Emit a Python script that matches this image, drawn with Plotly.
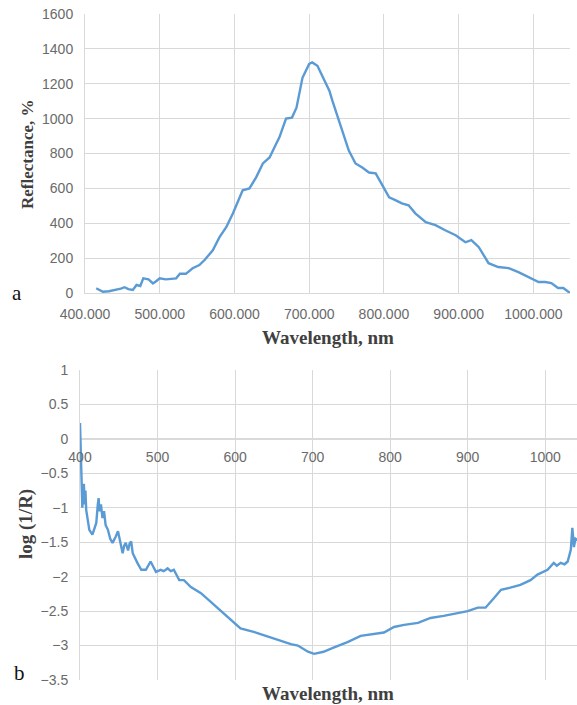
import plotly.graph_objects as go

# ---- data: panel a (reflectance) ----
wl_a = [415, 420, 424, 432, 442, 448, 453, 458, 464, 469, 474, 478, 485, 491, 496, 500, 508, 515,
        522, 527, 535, 544, 553, 560, 567, 571, 580, 589, 598, 607, 611, 620, 629, 638, 647, 656,
        660, 669, 677, 683, 691, 700, 704, 711, 720, 727, 731, 740, 747, 753, 762, 771, 780, 789,
        798, 807, 816, 824, 833, 842, 856, 869, 882, 896, 909, 917, 927, 940, 953, 967, 980, 993,
        1007, 1016, 1024, 1033, 1040, 1049]
refl_a = [27, 15, 7, 10, 17, 25, 33, 22, 17, 46, 40, 84, 78, 55, 70, 84, 78, 80,
          84, 110, 110, 142, 160, 189, 227, 245, 320, 377, 457, 549, 589, 600, 663, 743, 777, 857,
          891, 1000, 1006, 1063, 1234, 1314, 1322, 1303, 1217, 1160, 1103, 989, 891, 817, 743, 720, 691, 686,
          617, 549, 531, 514, 503, 457, 406, 389, 360, 331, 291, 303, 263, 171, 149, 143, 120, 91,
          63, 63, 57, 29, 29, 0]

# ---- data: panel b (log 1/R) ----
wl_b = [400, 401, 402, 403, 404, 405, 406, 407, 408, 410, 412, 416, 419, 421, 423, 424, 425, 427,
        429, 431, 433, 436, 439, 442, 446, 449, 452, 455, 457, 459, 462, 464, 466, 468, 474, 479,
        485, 491, 498, 504, 508, 513, 517, 521, 528, 534, 543, 556, 573, 590, 607, 624, 642, 659,
        672, 681, 694, 702, 714, 727, 745, 762, 779, 792, 805, 818, 836, 852, 869, 887, 900, 913,
        923, 934, 943, 955, 968, 981, 990, 1003, 1011, 1015, 1020, 1025, 1029, 1033, 1035, 1037,
        1039, 1042]
logr_b = [0.23, -0.3, -0.7, -1.0, -0.7, -0.65, -0.95, -0.75, -1.03, -1.2, -1.32, -1.39, -1.3, -1.22,
          -0.95, -0.86, -1.05, -0.95, -1.15, -1.05, -1.25, -1.32, -1.45, -1.51, -1.42, -1.34, -1.5,
          -1.66, -1.55, -1.51, -1.62, -1.52, -1.49, -1.66, -1.80, -1.90, -1.90, -1.78, -1.93, -1.90,
          -1.92, -1.88, -1.92, -1.90, -2.05, -2.05, -2.15, -2.24, -2.41, -2.58, -2.75, -2.80, -2.87,
          -2.93, -2.98, -3.00, -3.09, -3.12, -3.09, -3.03, -2.95, -2.86, -2.83, -2.81, -2.73, -2.70,
          -2.67, -2.60, -2.57, -2.53, -2.50, -2.45, -2.45, -2.31, -2.19, -2.16, -2.12, -2.05, -1.97,
          -1.90, -1.80, -1.84, -1.80, -1.82, -1.78, -1.61, -1.29, -1.57, -1.45, -1.47]

xticks_a = [400, 500, 600, 700, 800, 900, 1000]
xticks_b = [400, 500, 600, 700, 800, 900, 1000]

W, H = 577, 705
LINE = "#5B9BD5"
GRID = "#D9D9D9"
TICKC = "#6A6A6A"
TFONT = dict(family="Liberation Sans, Arial, sans-serif", size=14, color=TICKC)
SERIF = "Liberation Serif, Times New Roman, serif"

def fx(px):
    return px / W

def fy(py):
    return (H - py) / H

# panel geometry (pixels)
a_l, a_r, a_t, a_b = 85, 570, 14, 293
b_l, b_r, b_t, b_b = 80, 577, 370, 680

yb_range = [-3.5, 1]
b_dom = [fy(b_b), fy(b_t)]
zero_pos = b_dom[0] + (0 - yb_range[0]) / (yb_range[1] - yb_range[0]) * (b_dom[1] - b_dom[0])

fig = go.Figure()
fig.add_trace(go.Scatter(x=wl_a, y=refl_a, mode="lines", line=dict(color=LINE, width=2.4),
                         xaxis="x", yaxis="y", showlegend=False))
fig.add_trace(go.Scatter(x=wl_b, y=logr_b, mode="lines", line=dict(color=LINE, width=2.4),
                         xaxis="x2", yaxis="y2", showlegend=False))

fig.update_layout(
    width=W, height=H, margin=dict(l=0, r=0, t=0, b=0, autoexpand=False),
    paper_bgcolor="white", plot_bgcolor="white",
    xaxis=dict(domain=[fx(a_l), fx(a_r)], anchor="y", range=[400, 1049], automargin=False,
               tickvals=xticks_a, tickformat=".3f", showgrid=True, gridcolor=GRID,
               showline=True, linecolor=GRID, zeroline=False, ticks="",
               tickfont=TFONT, ticklabelstandoff=8),
    yaxis=dict(domain=[fy(a_b), fy(a_t)], anchor="x", range=[0, 1600], dtick=200, automargin=False,
               showgrid=True, gridcolor=GRID, showline=True, linecolor=GRID, zeroline=False,
               ticks="", tickfont=TFONT, ticklabelstandoff=8),
    xaxis2=dict(domain=[fx(b_l), fx(b_r)], anchor="free", position=zero_pos, range=[400, 1041],
                automargin=False, tickvals=xticks_b, showgrid=True, gridcolor=GRID, showline=False,
                zeroline=False, ticks="", tickfont=TFONT, ticklabelstandoff=8),
    yaxis2=dict(domain=b_dom, anchor="x2", range=yb_range, dtick=0.5, automargin=False,
                showgrid=True, gridcolor=GRID, showline=True, linecolor=GRID, zeroline=True,
                zerolinecolor=GRID, ticks="", tickfont=TFONT, ticklabelstandoff=8),
)

annos = [
    dict(text="<b>Reflectance, %</b>", x=fx(27), y=fy(154), textangle=-90,
         font=dict(family=SERIF, size=17, color="#404040")),
    dict(text="<b>Wavelength, nm</b>", x=fx(328), y=fy(337),
         font=dict(family=SERIF, size=19, color="#404040")),
    dict(text="<b>log (1/R)</b>", x=fx(26), y=fy(524), textangle=-90,
         font=dict(family=SERIF, size=19, color="#404040")),
    dict(text="<b>Wavelength, nm</b>", x=fx(328), y=fy(693),
         font=dict(family=SERIF, size=19, color="#404040")),
    dict(text="a", x=fx(17), y=fy(293), font=dict(family=SERIF, size=21, color="#111")),
    dict(text="b", x=fx(19), y=fy(673), font=dict(family=SERIF, size=21, color="#111")),
]
for a in annos:
    fig.add_annotation(xref="paper", yref="paper", showarrow=False, xanchor="center",
                       yanchor="middle", **a)

fig.write_html("out.html", config={"displayModeBar": False},
               post_script="document.body.style.margin='0px';document.body.style.overflow='hidden';")
